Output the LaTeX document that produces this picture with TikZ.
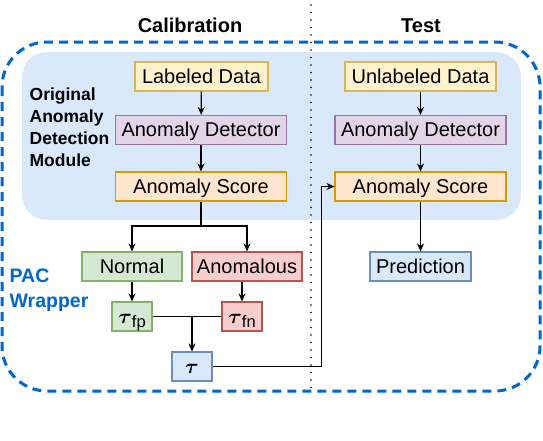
\documentclass[tikz,border=0pt]{standalone}
\usepackage{amsmath}
\usepackage{fontspec}
\setmainfont{Liberation Sans}
\setsansfont{Liberation Sans}
\usepackage{xcolor}
\definecolor{wrapblue}{HTML}{0066CC}
\definecolor{bgblue}{HTML}{DAE8FC}
\definecolor{yellowfill}{HTML}{FFF2CC}
\definecolor{yellowline}{HTML}{D6B656}
\definecolor{purplefill}{HTML}{E1D5E7}
\definecolor{purpleline}{HTML}{9673A6}
\definecolor{orangefill}{HTML}{FFE6CC}
\definecolor{orangeline}{HTML}{D79B00}
\definecolor{greenfill}{HTML}{D5E8D4}
\definecolor{greenline}{HTML}{82B366}
\definecolor{redfill}{HTML}{F8CECC}
\definecolor{redline}{HTML}{B85450}
\definecolor{bluefill}{HTML}{DAE8FC}
\definecolor{blueline}{HTML}{6C8EBF}
\usetikzlibrary{arrows.meta}
\newcommand{\tausub}[1]{$\boldsymbol{\tau}$\raisebox{-4pt}{\fontsize{16.5}{17}\selectfont #1}}

\begin{document}
\begin{tikzpicture}[x=1pt,y=-1pt,->,>={Stealth[length=8pt,width=7pt]},line width=1.3pt,
	box/.style={draw,line width=1.1pt,minimum height=29pt,inner sep=0pt,text height=15pt,text depth=2pt,font=\fontsize{20}{24}\selectfont},
	databox/.style={box,fill=yellowfill,draw=yellowline},
	detbox/.style={box,fill=purplefill,draw=purpleline,minimum width=171pt},
	scorebox/.style={box,fill=orangefill,draw=orangeline,minimum width=171pt},
	normbox/.style={box,fill=greenfill,draw=greenline},
	anombox/.style={box,fill=redfill,draw=redline},
	outbox/.style={box,fill=bluefill,draw=blueline},
	title/.style={anchor=base,inner sep=0pt,font=\bfseries\fontsize{20}{24}\selectfont}]
	\useasboundingbox (0,0) rectangle (543,440);

	% background panels
	\fill[bgblue,rounded corners=25pt] (22,52) rectangle (521,220);
	\draw[-,wrapblue,line width=3pt,dash pattern=on 9pt off 6pt,rounded corners=45pt] (2,42) rectangle (540,391);
	\draw[-,line width=1.8pt,line cap=round,dash pattern=on 0pt off 7.5pt] (311,5) -- (311,391);

	\node (caltitle) [title] at (190,32) {Calibration};
	\node (testtitle) [title] at (421,32) {Test};
	\node (origlabel) [anchor=north west,align=left,inner sep=0pt,font=\bfseries\fontsize{17.5}{22}\selectfont] at (29,87) {Original\\Anomaly\\Detection\\Module};
	\node (paclabel) [wrapblue,anchor=north west,align=left,inner sep=0pt,font=\bfseries\fontsize{19.5}{25}\selectfont] at (9,268) {PAC\\Wrapper};

	% calibration side
	\node (labeled) [databox,minimum width=133pt] at (201.5,76.5) {Labeled Data};
	\node (detcal) [detbox] at (201,130) {Anomaly Detector};
	\node (scorecal) [scorebox] at (201,186.5) {Anomaly Score};
	\node (normal) [normbox,minimum width=100pt] at (132,266.5) {Normal};
	\node (anomalous) [anombox,minimum width=110pt] at (247,266.5) {Anomalous};
	\node (taufp) [normbox,minimum width=40pt] at (132,316.5) {\tausub{fp}};
	\node (taufn) [anombox,minimum width=40pt] at (242,316.5) {\tausub{fn}};
	\node (tau) [outbox,minimum width=40pt] at (192,366.5) {$\boldsymbol{\tau}$};

	% test side
	\node (unlabeled) [databox,minimum width=151pt] at (420.5,76.5) {Unlabeled Data};
	\node (dettest) [detbox] at (420.5,130) {Anomaly Detector};
	\node (scoretest) [scorebox] at (420.5,186.5) {Anomaly Score};
	\node (prediction) [outbox,minimum width=101pt] at (420.5,266.5) {Prediction};

	\draw (labeled) -- (detcal);
	\draw (detcal) -- (scorecal);
	\coordinate (split) at (201,226);
	\draw[-] (scorecal) -- (split);
	\draw (split) -| (normal);
	\draw (split) -| (anomalous);
	\draw (normal) -- (taufp);
	\draw (anomalous.south -| taufn) -- (taufn);
	\draw[-] (taufp) -- (taufn);
	\draw (taufp.east -| tau) -- (tau);
	\draw (tau) -| ([xshift=-13pt]scoretest.west) -- (scoretest);

	\draw (unlabeled) -- (dettest);
	\draw (dettest) -- (scoretest);
	\draw (scoretest) -- (prediction);
\end{tikzpicture}
\end{document}
